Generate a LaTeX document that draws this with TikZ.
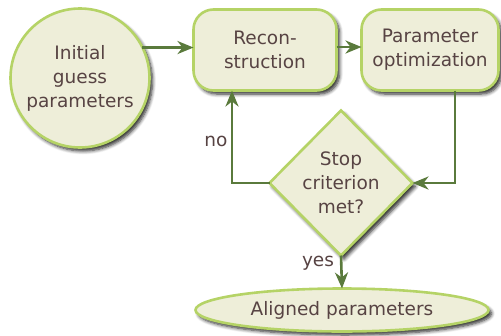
\documentclass[tikz,border=0pt]{standalone}
\usepackage{fontspec}
\setmainfont{DejaVu Sans}
\usetikzlibrary{shapes.geometric,arrows.meta,shadows.blur,calc}
\definecolor{txt}{HTML}{574343}
\definecolor{fillc}{HTML}{EEEED9}
\definecolor{bord}{HTML}{B5D366}
\definecolor{arr}{HTML}{5A7A3C}
\begin{document}
\begin{tikzpicture}[x=1pt,y=-1pt,
  every node/.style={text=txt,font=\fontsize{18.5}{24}\selectfont},
  shp/.style={draw=bord,fill=fillc,line width=2.6pt,inner sep=0pt,outer sep=0pt,align=center,
    blur shadow={shadow xshift=3pt,shadow yshift=-3.5pt,shadow blur radius=3.5pt,shadow blur steps=6,shadow opacity=85}},
  procbox/.style={shp,rectangle,rounded corners=20pt,minimum height=81pt},
  conn/.style={draw=arr,line width=2.6pt,-{Stealth[length=16pt,width=13pt,inset=5pt]}},
  lbl/.style={text=txt}
]
\useasboundingbox (0,0) rectangle (501,335);
\node[shp,circle,minimum size=139pt] (circ) at (80,78) {Initial\\guess\\parameters};
\node[procbox,minimum width=143pt] (recon) at (265,50) {Recon-\\struction};
\node[procbox,minimum width=137pt] (param) at (430,50) {Parameter\\optimization};
\node[shp,diamond,minimum width=143pt,minimum height=145pt] (diam) at (341,183) {Stop\\criterion\\met?};
\node[shp,ellipse,minimum width=293pt,minimum height=43pt] (ell) at (342,310) {Aligned parameters};
\draw[conn] (circ.26.3) -- (circ.26.3 -| recon.west);
\draw[conn] ([yshift=3pt]recon.east) -- ([yshift=3pt]param.west);
\draw[conn] ([xshift=25pt]param.south) |- (diam.east);
\draw[conn] (diam.west) -| ([xshift=-33pt]recon.south);
\draw[conn] (diam.south) -- (ell.north);
\node[lbl] (nolbl) at (216,141) {no};
\node[lbl] (yeslbl) at (318,263) {yes};
\end{tikzpicture}
\end{document}
